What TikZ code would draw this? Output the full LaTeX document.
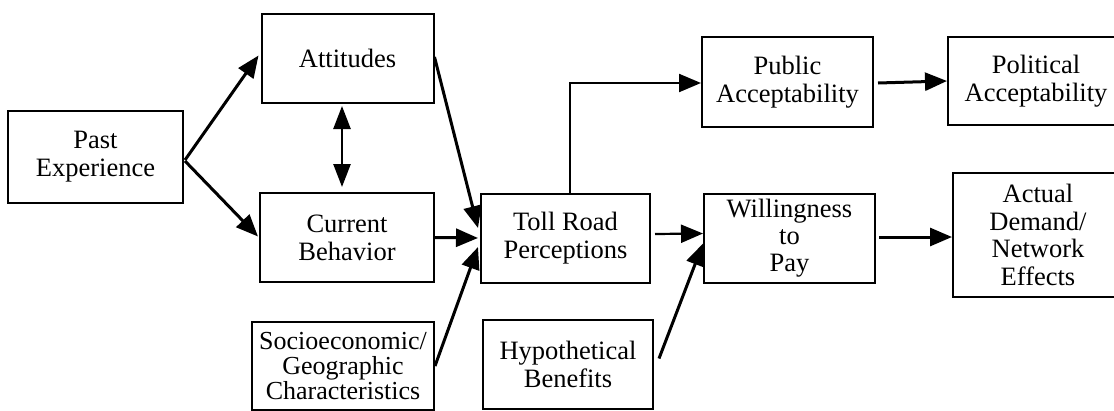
\documentclass[tikz,border=0pt]{standalone}
\usepackage{fontspec}
\setmainfont{Liberation Serif}
\usetikzlibrary{arrows.meta,calc}
\begin{document}
\begin{tikzpicture}[x=1pt,y=-1pt,
  box/.style={draw,line width=2pt,rectangle,align=center,inner sep=0pt,
    font=\fontsize{26.5}{28}\selectfont},
  arr/.style={line width=3pt,-{Triangle[length=22pt,width=18pt]}},
  thinarr/.style={line width=2.2pt,-{Triangle[length=22pt,width=18pt]}}]
\useasboundingbox (0,0) rectangle (1114,410);
\node[box,minimum width=175pt,minimum height=92pt] (past) at (95.5,157) {Past\\Experience};
\node[box,minimum width=172pt,minimum height=89pt] (att) at (347.5,58.5) {Attitudes};
\node[box,minimum width=174pt,minimum height=89pt] (cur) at (347,237.5) {Current\\Behavior};
\node[box,minimum width=182pt,minimum height=88pt,font=\fontsize{26}{25}\selectfont] (soc) at (343,366) {Socioeconomic/\\Geographic\\Characteristics};
\node[box,minimum width=169pt,minimum height=89pt] (toll) at (565.5,238) {Toll Road\\Perceptions};
\node[box,minimum width=170pt,minimum height=89pt] (hyp) at (568,364) {Hypothetical\\Benefits};
\node[box,minimum width=171pt,minimum height=90pt] (pub) at (787.5,82) {Public\\Acceptability};
\node[box,minimum width=176pt,minimum height=88pt] (pol) at (1036,81) {Political\\Acceptability};
\node[box,minimum width=171pt,minimum height=89pt,font=\fontsize{26.5}{27}\selectfont] (wil) at (789.5,238.5) {Willingness\\to\\Pay};
\node[box,minimum width=170pt,minimum height=124pt,font=\fontsize{26.5}{27.5}\selectfont] (act) at (1038,235) {Actual\\Demand/\\Network\\Effects};

\draw[arr] ($(past.east)+(1,3)$) -- ($(att.west)+(-2,-3)$);
\draw[arr] ($(past.east)+(1,4)$) -- ($(cur.west)+(-1,-1)$);
\draw[line width=2.5pt,{Triangle[length=23pt,width=17pt]}-{Triangle[length=23pt,width=17pt]}]
  ($(att.south)+(-5.5,2)$) -- ($(cur.north)+(-5,-5)$);
\draw[arr] ($(att.east)+(0,-1.5)$) -- ($(toll.west)+(-2,-10)$);
\draw[arr] (cur.east) -- ($(toll.west)+(-2,0)$);
\draw[arr] (soc.east) -- ($(toll.west)+(-2,9)$);
\draw[thinarr] ($(toll.north)+(4.5,0)$) |- ($(pub.west)+(0,1)$);
\draw[thinarr] ($(toll.east)+(4,-4)$) -- ($(wil.west)+(0,-5)$);
\draw[arr] ($(hyp.east)+(5,-5.5)$) -- ($(wil.west)+(0,5)$);
\draw[arr] ($(pub.east)+(4,1)$) -- (pol.west);
\draw[arr] ($(wil.east)+(3,-1.5)$) -- ($(act.west)+(0,2)$);
\end{tikzpicture}
\end{document}
